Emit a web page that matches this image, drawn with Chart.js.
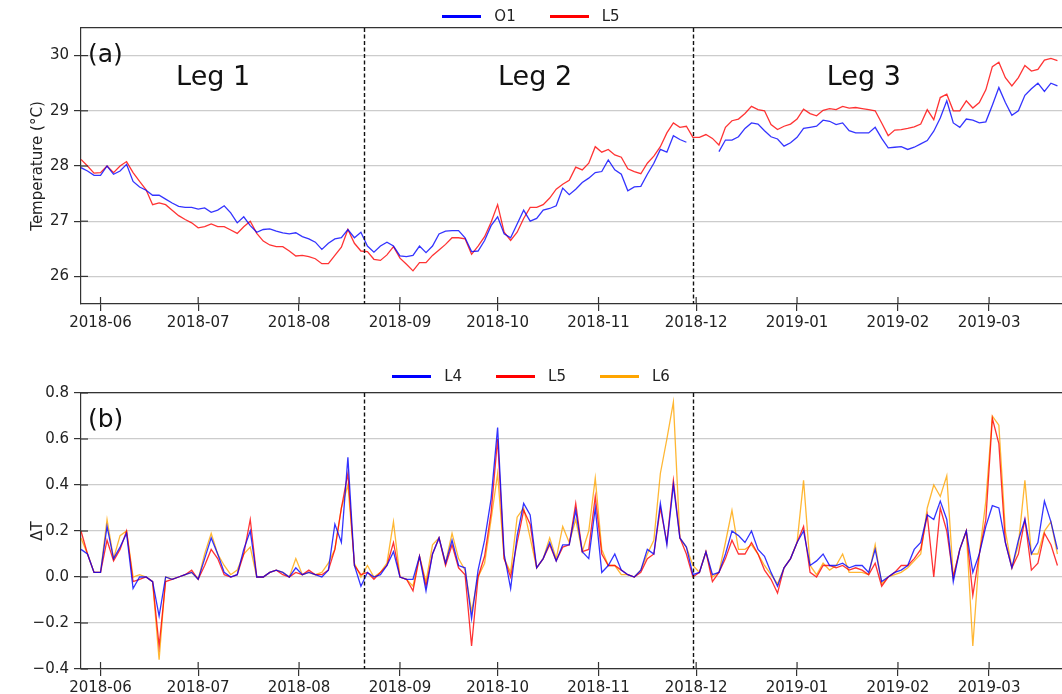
<!DOCTYPE html>
<html>
<head>
<meta charset="utf-8">
<script src="https://cdn.jsdelivr.net/npm/chart.js@4.4.0/dist/chart.umd.min.js"></script>
<style>
  body { margin: 0; background: #fff; width: 1062px; height: 694px; overflow: hidden; position: relative; }
  #wrapA { position: absolute; left: 0; top: 0; width: 1062px; height: 340px; }
  #wrapB { position: absolute; left: 0; top: 340px; width: 1062px; height: 354px; }
  .legend { position: absolute; left: 0; width: 1062px; height: 20px; display: flex; justify-content: center; align-items: center;
            font: 15px 'DejaVu Sans'; color: #222; }
  .item { display: flex; align-items: center; margin: 0 17px; }
  .swatch { width: 39px; height: 3px; margin-right: 13px; }
</style>
</head>
<body>
<div id="wrapA"><canvas id="chartA" width="1062" height="340"></canvas></div>
<div id="wrapB"><canvas id="chartB" width="1062" height="354"></canvas></div>
<div class="legend" id="legendA" style="top:6px"></div>
<div class="legend" id="legendB" style="top:366px"></div>
<script>
// one reading every 2 days, day 0 = 2018-05-26
const days = Array.from({ length: 151 }, (_, i) => i * 2);

// month ticks (days since 2018-05-26)
const monthDays = [6, 36, 67, 98, 128, 159, 189, 220, 251, 279];
const monthLabels = ['2018-06', '2018-07', '2018-08', '2018-09', '2018-10', '2018-11', '2018-12', '2019-01', '2019-02', '2019-03'];

// leg boundaries and leg names
const legBounds = [87, 188];
const legNames = ['Leg 1', 'Leg 2', 'Leg 3'];
const legCenters = [40.6, 139.5, 240.5];
const legLabelTemp = 29.47;

const tempTicks = [26, 27, 28, 29, 30];
const dtTicks = [-0.4, -0.2, 0, 0.2, 0.4, 0.6, 0.8];

// (a) temperature
const o1Temp = [
  27.97, 27.91, 27.83, 27.83, 28.00, 27.85, 27.91, 28.03, 27.72, 27.62,
  27.56, 27.47, 27.47, 27.40, 27.33, 27.27, 27.25, 27.25, 27.22, 27.24,
  27.16, 27.20, 27.28, 27.15, 26.97, 27.08, 26.92, 26.80, 26.85, 26.86,
  26.82, 26.79, 26.77, 26.79, 26.72, 26.68, 26.62, 26.49, 26.60, 26.68,
  26.70, 26.85, 26.70, 26.80, 26.55, 26.44, 26.55, 26.62, 26.55, 26.37,
  26.36, 26.38, 26.55, 26.43, 26.55, 26.77, 26.82, 26.83, 26.83, 26.70,
  26.45, 26.46, 26.65, 26.92, 27.08, 26.77, 26.70, 26.95, 27.20, 27.00,
  27.05, 27.20, 27.23, 27.28, 27.60, 27.48, 27.58, 27.70, 27.78, 27.88,
  27.90, 28.11, 27.93, 27.85, 27.55, 27.62, 27.63, 27.85, 28.05, 28.30,
  28.25, 28.55, 28.48, 28.43, null, null, null, null, 28.26, 28.47,
  28.47, 28.53, 28.68, 28.78, 28.76, 28.64, 28.53, 28.49, 28.36, 28.42,
  28.52, 28.68, 28.70, 28.72, 28.83, 28.81, 28.75, 28.78, 28.64, 28.60,
  28.60, 28.60, 28.70, 28.50, 28.33, 28.34, 28.35, 28.30, 28.34, 28.40,
  28.46, 28.63, 28.87, 29.18, 28.78, 28.70, 28.85, 28.83, 28.78, 28.80,
  29.10, 29.42, 29.15, 28.92, 29.00, 29.28, 29.40, 29.50, 29.35, 29.50,
  29.45
];
const l5Temp = [
  28.12, 28.00, 27.87, 27.88, 28.00, 27.88, 28.00, 28.08, 27.88, 27.72,
  27.57, 27.30, 27.33, 27.30, 27.20, 27.10, 27.03, 26.97, 26.88, 26.90,
  26.95, 26.90, 26.90, 26.84, 26.78, 26.90, 27.00, 26.78, 26.64, 26.57,
  26.54, 26.54, 26.46, 26.37, 26.38, 26.36, 26.32, 26.23, 26.23, 26.38,
  26.53, 26.85, 26.60, 26.46, 26.45, 26.31, 26.29, 26.39, 26.54, 26.33,
  26.22, 26.10, 26.25, 26.25, 26.38, 26.48, 26.58, 26.70, 26.70, 26.68,
  26.40, 26.55, 26.72, 26.98, 27.30, 26.80, 26.65, 26.80, 27.05, 27.25,
  27.25, 27.30, 27.42, 27.58, 27.67, 27.74, 27.98, 27.93, 28.05, 28.35,
  28.25, 28.30, 28.20, 28.16, 27.95, 27.90, 27.86, 28.05, 28.18, 28.35,
  28.60, 28.78, 28.70, 28.72, 28.52, 28.52, 28.57, 28.50, 28.38, 28.70,
  28.82, 28.85, 28.95, 29.08, 29.02, 29.00, 28.75, 28.66, 28.72, 28.76,
  28.85, 29.03, 28.95, 28.91, 29.01, 29.04, 29.02, 29.08, 29.05, 29.06,
  29.04, 29.02, 29.00, 28.78, 28.55, 28.65, 28.66, 28.68, 28.71, 28.76,
  29.02, 28.84, 29.24, 29.30, 29.00, 29.00, 29.18, 29.05, 29.15, 29.38,
  29.80, 29.88, 29.60, 29.45, 29.60, 29.82, 29.72, 29.75, 29.92, 29.95,
  29.91
];

// (b) delta T
const l4Dt = [
  0.12, 0.10, 0.02, 0.02, 0.22, 0.08, 0.13, 0.19, -0.05, 0.00,
  0.00, -0.02, -0.17, 0.00, -0.01, 0.00, 0.01, 0.02, -0.01, 0.08,
  0.17, 0.10, 0.02, 0.00, 0.01, 0.12, 0.20, 0.00, 0.00, 0.02,
  0.03, 0.02, 0.00, 0.04, 0.01, 0.02, 0.01, 0.00, 0.03, 0.23,
  0.15, 0.52, 0.05, -0.04, 0.02, 0.00, 0.01, 0.05, 0.11, 0.00,
  -0.01, -0.01, 0.09, -0.06, 0.10, 0.17, 0.06, 0.16, 0.05, 0.04,
  -0.18, 0.03, 0.16, 0.34, 0.65, 0.10, -0.05, 0.18, 0.32, 0.27,
  0.04, 0.08, 0.15, 0.07, 0.14, 0.14, 0.29, 0.11, 0.08, 0.30,
  0.02, 0.05, 0.10, 0.03, 0.01, 0.00, 0.03, 0.12, 0.10, 0.32,
  0.14, 0.40, 0.17, 0.13, 0.01, 0.02, 0.11, 0.01, 0.02, 0.10,
  0.20, 0.18, 0.15, 0.20, 0.12, 0.09, 0.02, -0.04, 0.04, 0.08,
  0.15, 0.20, 0.05, 0.07, 0.10, 0.05, 0.05, 0.06, 0.04, 0.05,
  0.05, 0.02, 0.12, -0.02, 0.00, 0.02, 0.03, 0.05, 0.12, 0.15,
  0.27, 0.25, 0.33, 0.25, -0.02, 0.12, 0.20, 0.02, 0.10, 0.22,
  0.31, 0.30, 0.15, 0.04, 0.16, 0.25, 0.10, 0.15, 0.33, 0.24,
  0.12
];
const l5Dt = [
  0.20, 0.10, 0.02, 0.02, 0.16, 0.07, 0.12, 0.20, -0.02, -0.01,
  0.00, -0.02, -0.30, -0.02, -0.01, 0.00, 0.01, 0.03, -0.01, 0.05,
  0.12, 0.08, 0.01, 0.00, 0.01, 0.10, 0.25, 0.00, 0.00, 0.02,
  0.03, 0.01, 0.00, 0.02, 0.01, 0.03, 0.01, 0.01, 0.03, 0.12,
  0.30, 0.45, 0.05, 0.01, 0.02, -0.01, 0.02, 0.05, 0.15, 0.00,
  -0.01, -0.06, 0.09, -0.04, 0.10, 0.17, 0.05, 0.14, 0.04, 0.01,
  -0.30, 0.00, 0.09, 0.28, 0.60, 0.08, 0.00, 0.15, 0.29, 0.23,
  0.04, 0.08, 0.14, 0.07, 0.13, 0.14, 0.32, 0.11, 0.12, 0.35,
  0.10, 0.05, 0.05, 0.03, 0.01, 0.00, 0.02, 0.08, 0.10, 0.30,
  0.15, 0.42, 0.17, 0.10, 0.00, 0.02, 0.11, -0.02, 0.02, 0.08,
  0.16, 0.10, 0.10, 0.15, 0.10, 0.03, -0.01, -0.07, 0.04, 0.08,
  0.15, 0.22, 0.02, 0.00, 0.05, 0.05, 0.04, 0.05, 0.03, 0.04,
  0.03, 0.01, 0.06, -0.04, 0.00, 0.02, 0.05, 0.05, 0.08, 0.12,
  0.27, 0.00, 0.30, 0.20, 0.00, 0.12, 0.20, -0.08, 0.10, 0.25,
  0.69, 0.58, 0.15, 0.04, 0.10, 0.25, 0.03, 0.06, 0.19, 0.14,
  0.05
];
const l6Dt = [
  0.17, 0.10, 0.02, 0.02, 0.25, 0.08, 0.18, 0.20, 0.00, 0.01,
  0.00, -0.02, -0.36, 0.00, -0.01, 0.00, 0.01, 0.02, -0.01, 0.10,
  0.19, 0.10, 0.05, 0.01, 0.03, 0.10, 0.13, 0.00, 0.00, 0.02,
  0.03, 0.02, 0.00, 0.08, 0.01, 0.02, 0.01, 0.02, 0.06, 0.12,
  0.30, 0.40, 0.06, 0.00, 0.05, 0.00, 0.02, 0.06, 0.24, 0.00,
  -0.01, -0.04, 0.09, -0.02, 0.14, 0.17, 0.06, 0.19, 0.08, 0.03,
  -0.15, 0.00, 0.06, 0.25, 0.45, 0.08, 0.02, 0.26, 0.30, 0.17,
  0.04, 0.08, 0.17, 0.08, 0.22, 0.15, 0.25, 0.11, 0.20, 0.43,
  0.12, 0.05, 0.05, 0.01, 0.01, 0.00, 0.03, 0.10, 0.16, 0.45,
  0.60, 0.76, 0.17, 0.13, 0.05, 0.02, 0.11, 0.00, 0.02, 0.15,
  0.29, 0.12, 0.12, 0.14, 0.10, 0.05, 0.01, -0.03, 0.04, 0.08,
  0.15, 0.42, 0.05, 0.01, 0.06, 0.03, 0.05, 0.10, 0.02, 0.02,
  0.02, 0.01, 0.14, -0.03, 0.00, 0.01, 0.02, 0.04, 0.07, 0.10,
  0.30, 0.40, 0.35, 0.44, 0.00, 0.12, 0.20, -0.30, 0.10, 0.33,
  0.70, 0.66, 0.20, 0.04, 0.14, 0.42, 0.10, 0.10, 0.20, 0.24,
  0.10
];

const FONT = 'DejaVu Sans';
const INK = '#222';
const AXIS = '#333';
const X_MAX = 301.4;

function pts(vals) {
  return vals.map((v, i) => ({ x: days[i], y: v }));
}

function line(label, vals, color, legendColor) {
  return {
    label: label, data: pts(vals), borderColor: color, legendColor: legendColor,
    borderWidth: 1.3, pointRadius: 0, tension: 0, spanGaps: false, fill: false
  };
}

// dashed leg lines, inward tick halves, panel letter and leg names
const overlay = {
  id: 'overlay',
  afterDatasetsDraw(chart, args, opts) {
    const { ctx, chartArea: a, scales: { x, y } } = chart;
    ctx.save();
    ctx.strokeStyle = '#111';
    ctx.lineWidth = 1.4;
    ctx.setLineDash([4, 2.5]);
    legBounds.forEach(d => {
      const px = Math.round(x.getPixelForValue(d)) + 0.5;
      ctx.beginPath(); ctx.moveTo(px, a.top); ctx.lineTo(px, a.bottom); ctx.stroke();
    });
    ctx.setLineDash([]);
    ctx.strokeStyle = AXIS;
    ctx.lineWidth = 1.2;
    x.ticks.forEach(t => {
      const px = x.getPixelForValue(t.value);
      ctx.beginPath(); ctx.moveTo(px, a.bottom); ctx.lineTo(px, a.bottom - 7); ctx.stroke();
    });
    y.ticks.forEach(t => {
      const py = y.getPixelForValue(t.value);
      ctx.beginPath(); ctx.moveTo(a.left, py); ctx.lineTo(a.left + 7, py); ctx.stroke();
    });
    ctx.fillStyle = '#111';
    ctx.textBaseline = 'middle';
    ctx.textAlign = 'left';
    ctx.font = `25px "${FONT}"`;
    ctx.fillText(opts.letter, a.left + 7, a.top + 27);
    if (opts.legs) {
      ctx.font = `27px "${FONT}"`;
      ctx.textAlign = 'center';
      ctx.textBaseline = 'alphabetic';
      legNames.forEach((name, i) => {
        ctx.fillText(name, x.getPixelForValue(legCenters[i]), y.getPixelForValue(legLabelTemp));
      });
    }
    ctx.restore();
  }
};

function makeChart(id, datasets, o) {
  const chart = new Chart(document.getElementById(id), {
    type: 'line',
    data: { datasets: datasets },
    plugins: [overlay],
    options: {
      responsive: false,
      animation: false,
      layout: { padding: { top: o.padTop, left: 0, right: 0, bottom: 0 } },
      plugins: {
        legend: { display: false },
        tooltip: { enabled: false },
        overlay: { letter: o.letter, legs: o.legs }
      },
      scales: {
        x: {
          type: 'linear', min: 0, max: X_MAX,
          afterBuildTicks: s => { s.ticks = monthDays.map(v => ({ value: v })); },
          afterFit: s => { s.height = o.xAxisH; },
          ticks: {
            autoSkip: false, maxRotation: 0, padding: 3, color: INK,
            font: { family: FONT, size: 15 },
            callback: (v, i) => monthLabels[i]
          },
          grid: { drawOnChartArea: false, drawTicks: true, tickLength: 7, tickColor: AXIS, lineWidth: 1.2 },
          border: { color: AXIS, width: 1.2 }
        },
        xTop: {
          type: 'linear', position: 'top', min: 0, max: X_MAX,
          ticks: { display: false },
          grid: { display: false },
          border: { color: AXIS, width: 1.2 },
          afterFit: s => { s.height = 0; }
        },
        y: {
          min: o.yMin, max: o.yMax,
          afterBuildTicks: s => { s.ticks = o.yTicks.map(v => ({ value: v })); },
          afterFit: s => { s.width = 81; },
          ticks: { padding: 5, color: INK, font: { family: FONT, size: 15 }, callback: o.fmt },
          grid: { color: '#cccccc', lineWidth: 1.2, tickLength: 7, tickColor: AXIS },
          border: { color: AXIS, width: 1.2 },
          title: {
            display: true, text: o.yTitle, color: INK,
            font: { family: FONT, size: 15 }, padding: { top: 29, bottom: 0 }
          }
        }
      }
    }
  });
  // legend built from the datasets
  const box = document.getElementById(o.legendId);
  chart.data.datasets.forEach(ds => {
    const item = document.createElement('div');
    item.className = 'item';
    item.innerHTML = `<span class="swatch" style="background:${ds.legendColor}"></span><span>${ds.label}</span>`;
    box.appendChild(item);
  });
  return chart;
}

makeChart('chartA', [
  line('O1', o1Temp, 'rgba(0,0,255,0.8)', '#0000ff'),
  line('L5', l5Temp, 'rgba(255,0,0,0.8)', '#ff0000')
], {
  padTop: 28, xAxisH: 36, yMin: 25.5, yMax: 30.5, yTicks: tempTicks,
  yTitle: 'Temperature (°C)', fmt: v => String(v), letter: '(a)', legs: true, legendId: 'legendA'
});

makeChart('chartB', [
  line('L4', l4Dt, 'rgba(0,0,255,0.8)', '#0000ff'),
  line('L5', l5Dt, 'rgba(255,0,0,0.8)', '#ff0000'),
  line('L6', l6Dt, 'rgba(255,165,0,0.8)', '#ffa500')
], {
  padTop: 53, xAxisH: 25, yMin: -0.4, yMax: 0.8, yTicks: dtTicks,
  yTitle: 'ΔT', fmt: v => v.toFixed(1).replace('-', '\u2212'), letter: '(b)', legs: false, legendId: 'legendB'
});
</script>
</body>
</html>
